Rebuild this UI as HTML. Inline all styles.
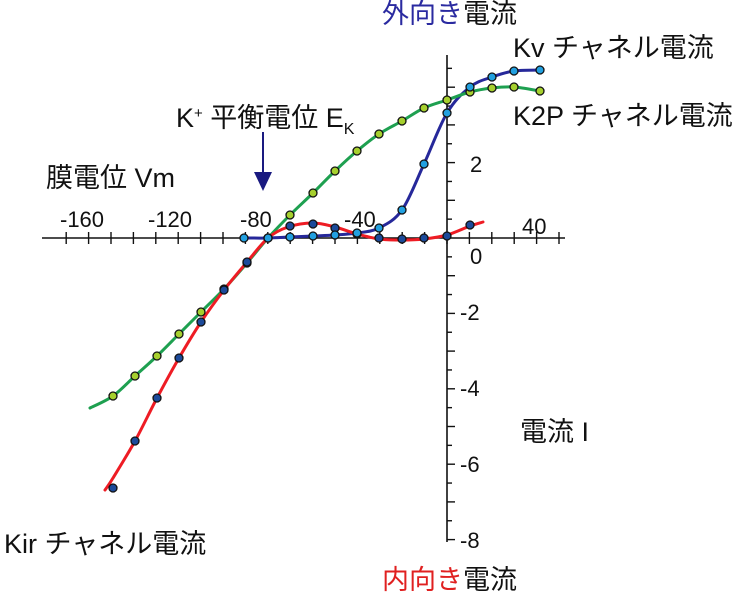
<!DOCTYPE html>
<html><head><meta charset="utf-8"><style>
html,body{margin:0;padding:0;background:#fff;}
svg{display:block;}
text{font-family:"Liberation Sans","Noto Sans CJK JP",sans-serif;font-size:22px;fill:#111;}
.L{font-size:27px;}
</style></head><body>
<svg id="s" width="741" height="600" viewBox="0 0 741 600" xmlns="http://www.w3.org/2000/svg">
<g id="axes" stroke="#111" stroke-width="1.6" fill="none">
<line x1="42" y1="238" x2="565" y2="238"/>
<line x1="447" y1="55" x2="447" y2="542"/>
</g>
<g id="ticks" stroke="#111" stroke-width="1.4"></g>
<g id="curves" fill="none" stroke-width="3" stroke-linecap="round"></g>
<g id="pts" stroke="#111" stroke-width="1.3"></g>
<line x1="263" y1="132" x2="263" y2="176" stroke="#1a1a80" stroke-width="2"/>
<polygon points="254,172 272,172 263,191" fill="#1a1a80"/>
<text x="60" y="227">-160</text>
<text x="148" y="227">-120</text>
<text x="240" y="227">-80</text>
<text x="344" y="227">-40</text>
<text x="522" y="234">40</text>
<text x="470" y="264">0</text>
<text x="470" y="172">2</text>
<text x="460" y="320">-2</text>
<text x="460" y="396">-4</text>
<text x="460" y="472">-6</text>
<text x="460" y="548">-8</text>
<text class="L" x="382" y="23" style="fill:#2a2aa0">外向き<tspan style="fill:#111">電流</tspan></text>
<text class="L" x="382" y="589" style="fill:#e02020">内向き<tspan style="fill:#111">電流</tspan></text>
<text class="L" x="513" y="57">Kv チャネル電流</text>
<text class="L" x="513" y="125">K2P チャネル電流</text>
<text class="L" x="176" y="127">K<tspan font-size="15" dy="-9">+</tspan><tspan dy="9"> 平衡電位 E</tspan><tspan font-size="16" dy="7">K</tspan></text>
<text class="L" x="46" y="187">膜電位 Vm</text>
<text class="L" x="520" y="441">電流 I</text>
<text class="L" x="4" y="553">Kir チャネル電流</text>
</svg>
<script>
var X=function(v){return 447+2.24*v;};
var t=document.getElementById('ticks'),h='';
for(var v=-180;v<=50;v+=10){var x=X(v);if(x<44||x>563)continue;h+='<line x1="'+x+'" y1="232" x2="'+x+'" y2="244"/>';}
for(var y=238-37.7*4.5;y<=542;y+=18.85){if(Math.abs(y-238)<2)continue;h+='<line x1="447" y1="'+y+'" x2="'+(Math.round((y-238)/37.7*2)%2==0?455:452)+'" y2="'+y+'"/>';}
t.innerHTML=h;
function cr(p){var d='M'+p[0][0]+','+p[0][1];for(var i=0;i<p.length-1;i++){var a=p[i-1]||p[i],b=p[i],c=p[i+1],e=p[i+2]||c;d+=' C'+(b[0]+(c[0]-a[0])/6)+','+(b[1]+(c[1]-a[1])/6)+' '+(c[0]-(e[0]-b[0])/6)+','+(c[1]-(e[1]-b[1])/6)+' '+c[0]+','+c[1];}return d;}
var kir=[[105,490],[113,478],[135,441],[157,398],[179,358],[201,322],[224,290],[247,262],[268,238],[288,227],[313,223],[335,227],[357,234],[379,239],[402,240],[424,239],[447,235],[470,226],[483,222]];
var kirP=[[113,488],[135,441],[157,398],[179,358],[201,322],[224,290],[247,262],[268,238],[290,226],[313,224],[335,228],[357,234],[379,238],[402,239],[424,238],[447,236],[470,225]];
var k2p=[[90,408],[113,396],[135,376],[157,356],[179,334],[201,312],[224,289],[247,263],[268,238],[290,215],[313,193],[335,171],[357,151],[379,134],[402,121],[424,108],[447,100],[470,92],[492,88],[514,87],[540,91]];
var kv=[[244,238],[268,238],[290,237],[313,236],[335,235],[357,233],[379,228],[402,210],[424,164],[447,113],[470,87],[492,77],[514,71],[540,70]];
var cur=document.getElementById('curves');
cur.innerHTML='<path d="'+cr(kv)+'" stroke="#26289a"/><path d="'+cr(k2p)+'" stroke="#1ea050"/><path d="'+cr(kir)+'" stroke="#ee1c24"/>';
var ph='';
function dots(a,f,s,e){a.slice(s,e).forEach(function(p){ph+='<circle cx="'+p[0]+'" cy="'+p[1]+'" r="4" fill="'+f+'"/>';});}
dots(k2p,'#a6d02e',1,21);dots(kirP,'#1c4a9a',0,17);dots(kv,'#22a0e0',0,14);
document.getElementById('pts').innerHTML=ph;
</script>
</body></html>
